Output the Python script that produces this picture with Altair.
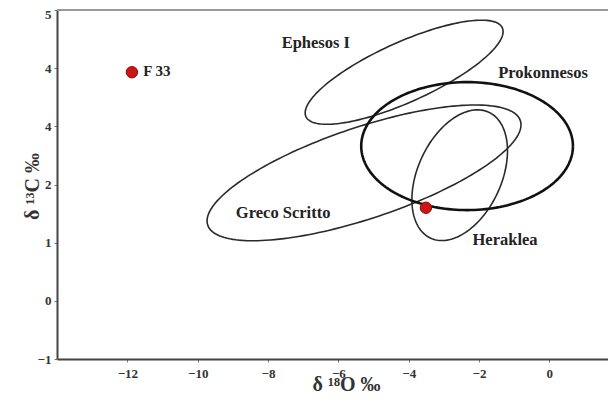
import altair as alt
import numpy as np
import pandas as pd

# Ellipse outlines: name, centre (x, y), semi-diameter vectors (data units)
ell_names = ["Ephesos I", "Prokonnesos", "Heraklea", "Greco Scritto"]
ell_cx = [-4.13, -2.34, -2.55, -5.27]
ell_cy = [3.93, 2.66, 2.16, 2.20]
ell_ux = [2.792, 3.01, 0.825, 4.444]
ell_uy = [0.763, 0.0, 1.083, 0.899]
ell_vx = [0.350, 0.0, 1.080, 0.412]
ell_vy = [-0.468, 1.10, -0.300, -0.744]
ell_thick = [False, True, False, False]

# Samples
pt_names = ["F 33", ""]
pt_x = [-11.87, -3.51]
pt_y = [3.93, 1.60]

# Labels
lab_text = ["F 33", "Ephesos I", "Prokonnesos", "Greco Scritto", "Heraklea"]
lab_x = [-11.55, -6.64, -0.18, -7.57, -1.26]
lab_y = [3.95, 4.43, 3.92, 1.51, 1.05]
lab_align = ["left", "center", "center", "center", "center"]

x_ticks = [-12, -10, -8, -6, -4, -2, 0]
y_ticks = [-1, 0, 1, 2, 3, 4, 5]

rows = []
t = np.linspace(0, 2 * np.pi, 181)
for i, n in enumerate(ell_names):
    for k, tt in enumerate(t):
        rows.append({
            "name": n, "k": k, "thick": ell_thick[i],
            "x": ell_cx[i] + ell_ux[i] * np.cos(tt) + ell_vx[i] * np.sin(tt),
            "y": ell_cy[i] + ell_uy[i] * np.cos(tt) + ell_vy[i] * np.sin(tt),
        })
ell_df = pd.DataFrame(rows)
pt_df = pd.DataFrame({"name": pt_names, "x": pt_x, "y": pt_y})
lab_df = pd.DataFrame({"text": lab_text, "x": lab_x, "y": lab_y, "align": lab_align})

FONT = "Liberation Serif"

xs = alt.Scale(domain=[-14, 1.667], nice=False, zero=False)
ys = alt.Scale(domain=[-1, 5], nice=False, zero=False)

x_axis = alt.Axis(
    values=x_ticks, title="δ ¹⁸O ‰", grid=False, format="d",
    labelFont=FONT, labelFontWeight="bold", labelFontSize=13, labelColor="#333",
    titleFont=FONT, titleFontWeight="bold", titleFontSize=20, titleColor="#333",
    titleX=289, titleY=31, titleBaseline="alphabetic",
    domainColor="#444", domainWidth=2, tickColor="#777", tickSize=3, labelPadding=5,
)
y_axis = alt.Axis(
    values=y_ticks, title="δ ¹³C ‰", grid=False, format="d",
    labelExpr="datum.value == 3 ? '4' : datum.label",
    labelOffset={"condition": {"test": "datum.value == 5", "value": 4}, "value": 0},
    labelFont=FONT, labelFontWeight="bold", labelFontSize=13, labelColor="#333",
    titleFont=FONT, titleFontWeight="bold", titleFontSize=20, titleColor="#333",
    titleAngle=270, titleX=-25, titleY=176, titleBaseline="middle", titleAlign="center",
    domainColor="#444", domainWidth=2, tickColor="#777", tickSize=3, labelPadding=3,
)

ell_thin = alt.Chart(ell_df[~ell_df["thick"]]).mark_line(
    strokeJoin="round", color="#2a2a2a", strokeWidth=1.6
).encode(
    x=alt.X("x:Q", scale=xs, axis=x_axis),
    y=alt.Y("y:Q", scale=ys, axis=y_axis),
    detail="name:N",
    order="k:Q",
)
ell_bold = alt.Chart(ell_df[ell_df["thick"]]).mark_line(
    strokeJoin="round", color="#111111", strokeWidth=2.6
).encode(
    x=alt.X("x:Q", scale=xs),
    y=alt.Y("y:Q", scale=ys),
    detail="name:N",
    order="k:Q",
)

top = alt.Chart(pd.DataFrame({"y": [5]})).mark_rule(color="#9a9a9a", strokeWidth=2).encode(
    y=alt.Y("y:Q", scale=ys)
)

pts = alt.Chart(pt_df).mark_circle(size=130, color="#cc1515", opacity=1,
                                   stroke="#8a0a0a", strokeWidth=1).encode(
    x=alt.X("x:Q", scale=xs), y=alt.Y("y:Q", scale=ys)
)

labs_l = alt.Chart(lab_df[lab_df["align"] == "left"]).mark_text(
    font=FONT, fontWeight="bold", fontSize=15, align="left", baseline="middle", color="#222"
).encode(x=alt.X("x:Q", scale=xs), y=alt.Y("y:Q", scale=ys), text="text:N")

labs_c = alt.Chart(lab_df[lab_df["align"] == "center"]).mark_text(
    font=FONT, fontWeight="bold", fontSize=16.5, align="center", baseline="middle", color="#222"
).encode(x=alt.X("x:Q", scale=xs), y=alt.Y("y:Q", scale=ys), text="text:N")

chart = alt.layer(top, ell_thin, ell_bold, pts, labs_l, labs_c).properties(
    width=551, height=349,
    autosize=alt.AutoSizeParams(type="none"),
    padding={"left": 49, "top": 2, "right": 0, "bottom": 35},
).configure_view(stroke=None).configure(background="white")

chart.save("out.html", embed_options={"renderer": "svg", "actions": False})
